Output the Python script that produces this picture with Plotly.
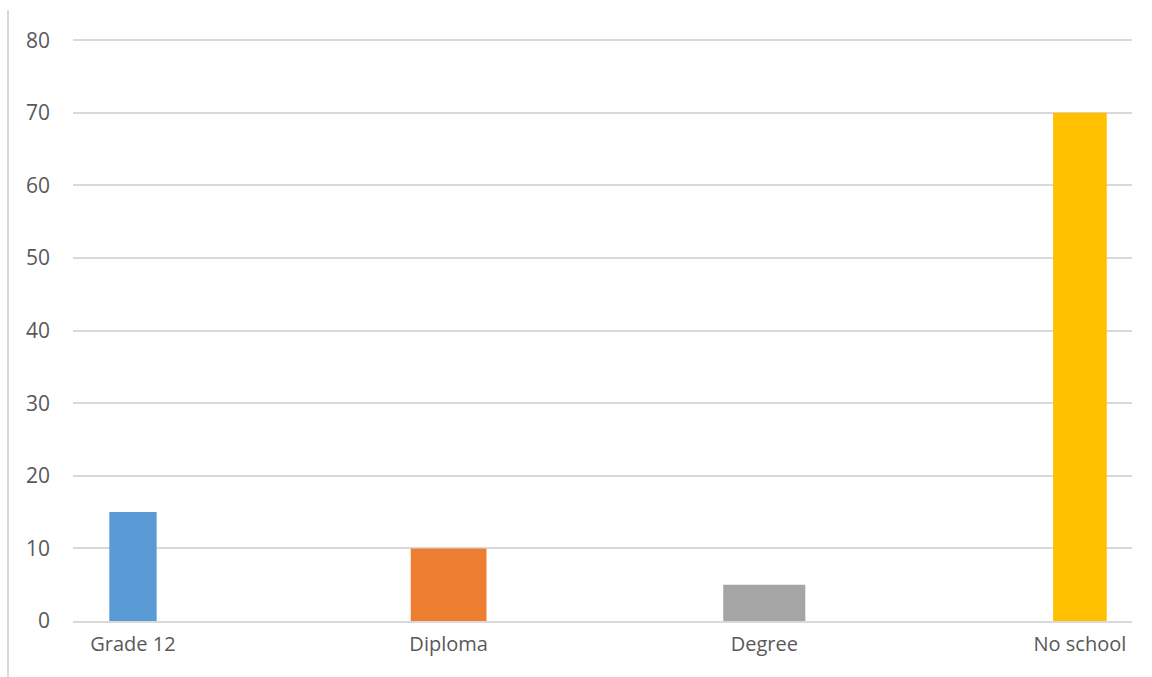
import plotly.graph_objects as go

# Share of respondents by highest education level (%)
categories = ["Grade 12", "Diploma", "Degree", "No school"]
values = [15, 10, 5, 70]
colors = ["#5B9BD5", "#ED7D31", "#A5A5A5", "#FFC000"]
bar_widths = [0.15, 0.24, 0.26, 0.17]

W, H = 1152, 677
ml, mr, mt, mb = 73, 20, 33, 56
plot_w = W - ml - mr
plot_h = H - mt - mb

fig = go.Figure(
    go.Bar(
        x=categories,
        y=values,
        width=bar_widths,
        marker=dict(color=colors, line=dict(width=0)),
        hoverinfo="x+y",
    )
)

font_family = "Open Sans, Liberation Sans, sans-serif"

fig.update_layout(
    width=W,
    height=H,
    margin=dict(l=ml, r=mr, t=mt, b=mb),
    paper_bgcolor="white",
    plot_bgcolor="white",
    showlegend=False,
    font=dict(family=font_family, size=20, color="#595959"),
    xaxis=dict(
        type="category",
        range=[-0.19, 3.165],
        showgrid=False,
        showline=True,
        linecolor="#D9D9D9",
        linewidth=2,
        ticks="",
        ticklabelstandoff=4,
        tickfont=dict(size=20, color="#595959"),
    ),
    yaxis=dict(
        range=[0, 81],
        tickvals=[0, 10, 20, 30, 40, 50, 60, 70, 80],
        showgrid=True,
        gridcolor="#D9D9D9",
        gridwidth=2,
        zeroline=False,
        showline=False,
        ticks="",
        ticklabelstandoff=22,
        tickfont=dict(size=21, color="#595959"),
    ),
    shapes=[
        # thin frame line along the left edge of the chart area
        dict(
            type="line",
            xref="paper",
            yref="paper",
            x0=(8 - ml) / plot_w,
            x1=(8 - ml) / plot_w,
            y0=(H - mb - 10) / plot_h,
            y1=-(mb) / plot_h,
            line=dict(color="#D9D9D9", width=2),
        )
    ],
)

fig.write_html("out.html")
